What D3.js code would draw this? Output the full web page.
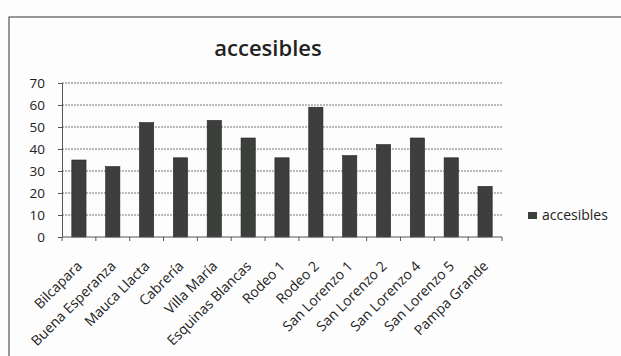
<!DOCTYPE html>
<html><head><meta charset="utf-8">
<script src="https://cdn.jsdelivr.net/npm/d3@7"></script>
<style>
body{margin:0;background:#fff;}
svg{display:block;}
text{font-family:"Open Sans","Liberation Sans",sans-serif;fill:#222;}
</style></head><body>
<script>
const categories = ["Bilcapara","Buena Esperanza","Mauca Llacta","Cabrería","Villa María","Esquinas Blancas","Rodeo 1","Rodeo 2","San Lorenzo 1","San Lorenzo 2","San Lorenzo 4","San Lorenzo 5","Pampa Grande"];
const values = [35,32,52,36,53,45,36,59,37,42,45,36,23];
const yTicks = [0,10,20,30,40,50,60,70];
const seriesName = "accesibles";

const W=621,H=356;
const svg=d3.select("body").append("svg").attr("width",W).attr("height",H);
svg.append("rect").attr("width",W).attr("height",H).attr("fill","#fdfdfd");
// chart frame
svg.append("rect").attr("x",9).attr("y",17).attr("width",W+20).attr("height",H).attr("fill","none").attr("stroke","#555").attr("stroke-width",1.2);

const x=d3.scaleBand().domain(categories).range([62,502]).paddingInner(0.58).paddingOuter(0.29);
const y=d3.scaleLinear().domain([0,70]).range([237,83]);

// gridlines
svg.append("g").selectAll("line").data(yTicks.filter(d=>d>0)).join("line")
 .attr("x1",62).attr("x2",502).attr("y1",d=>y(d)).attr("y2",d=>y(d))
 .attr("stroke","#777").attr("stroke-width",1).attr("stroke-dasharray","2,1");

// bars
svg.append("g").selectAll("rect").data(values).join("rect")
 .attr("x",(d,i)=>x(categories[i])).attr("width",x.bandwidth())
 .attr("y",d=>y(d)).attr("height",d=>y(0)-y(d))
 .attr("fill","#3c3f3c").attr("stroke","#222").attr("stroke-width",0.6);

// y axis
const ya=svg.append("g").attr("transform","translate(62,0)")
 .call(d3.axisLeft(y).tickValues(yTicks).tickSize(4).tickPadding(13));
ya.select(".domain").attr("stroke","#555");
ya.selectAll(".tick line").attr("stroke","#555");
ya.selectAll("text").style("font-size","13.5px").attr("fill","#222");

// x axis with ticks between categories
const xb=d3.scaleLinear().domain([0,categories.length]).range([62,502]);
const xa=svg.append("g").attr("transform","translate(0,237)");
xa.append("line").attr("x1",62).attr("x2",502).attr("stroke","#555");
xa.selectAll(".tk").data(d3.range(categories.length+1)).join("line")
 .attr("x1",d=>xb(d)).attr("x2",d=>xb(d)).attr("y1",0).attr("y2",4).attr("stroke","#555");
xa.selectAll(".lbl").data(categories).join("text")
 .attr("transform",d=>`translate(${x(d)+x.bandwidth()/2+4},${30}) rotate(-45)`)
 .attr("text-anchor","end").style("font-size","14px").text(d=>d);

// title
svg.append("text").attr("x",268).attr("y",56).attr("text-anchor","middle")
 .style("font-size","22px").style("font-weight","600").text(seriesName);

// legend
svg.append("rect").attr("x",528).attr("y",212).attr("width",9).attr("height",7).attr("fill","#3c3f3c");
svg.append("text").attr("x",542).attr("y",220).style("font-size","14px").text(seriesName);
</script>
</body></html>
